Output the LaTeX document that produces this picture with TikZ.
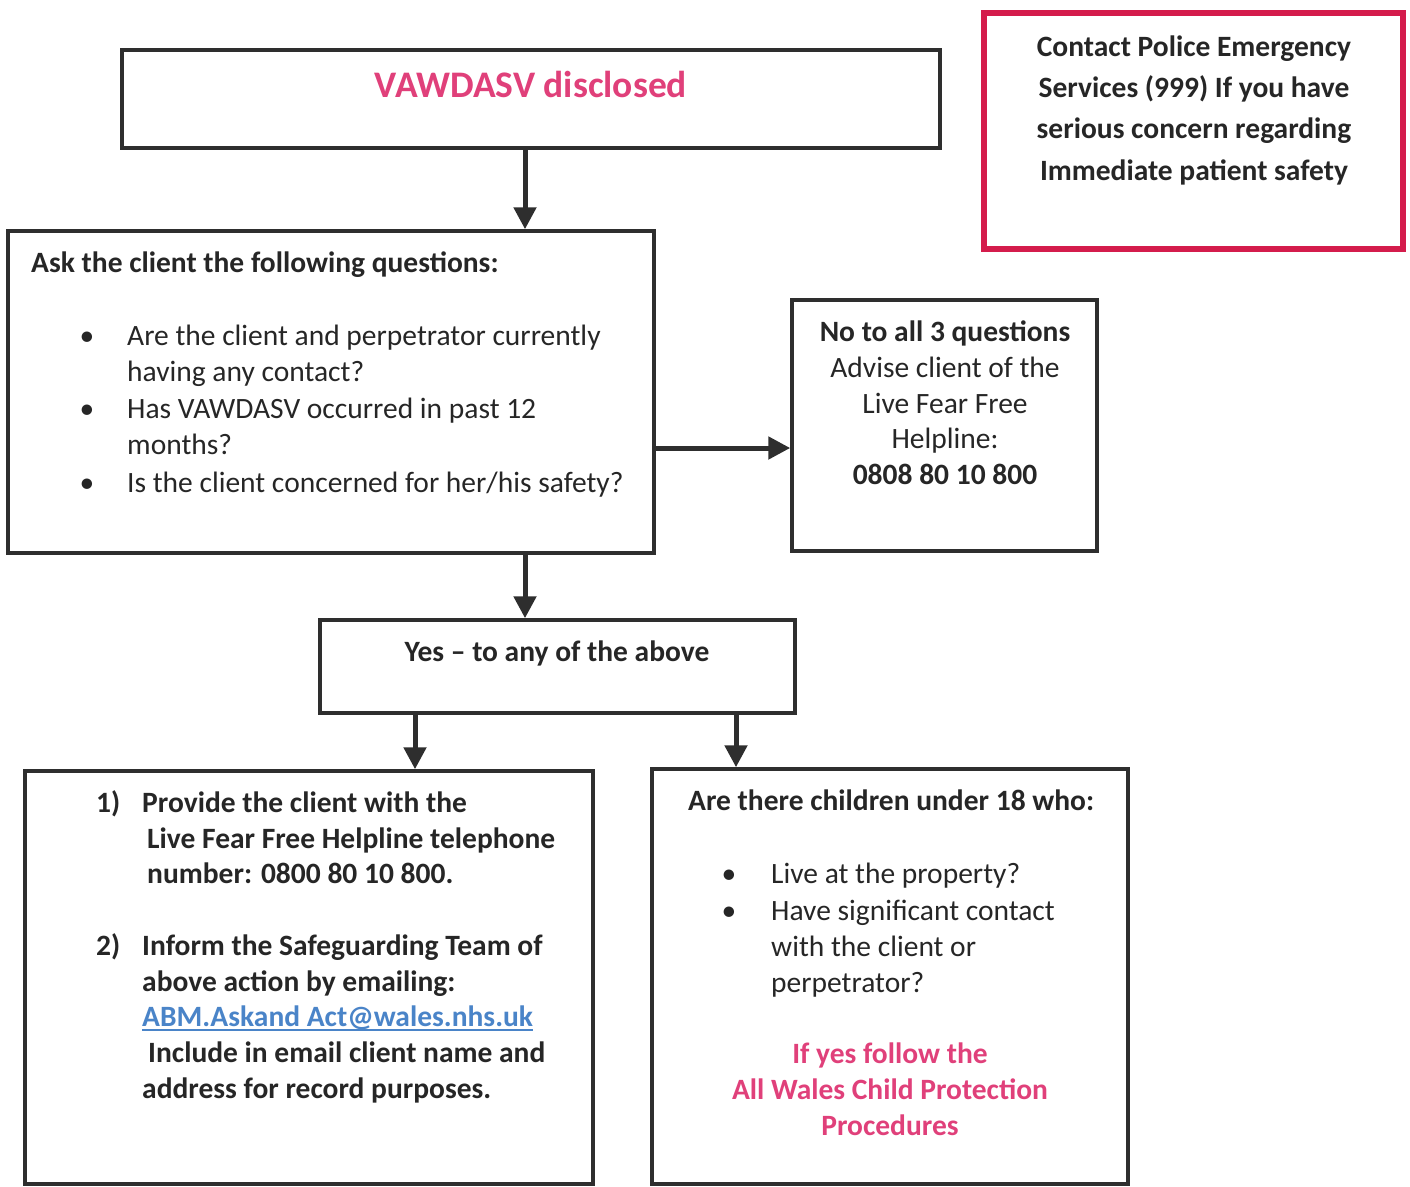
\documentclass[tikz,border=0pt]{standalone}
\usepackage{fontspec}
\setmainfont{Carlito}
\usetikzlibrary{arrows.meta}
\definecolor{boxgray}{HTML}{2E2E2E}
\definecolor{pinktxt}{HTML}{E0407A}
\definecolor{redframe}{HTML}{D41C4C}
\definecolor{linkblue}{HTML}{4A84C8}
\tikzset{
  box/.style={draw=boxgray, line width=3.5pt, inner sep=0pt, fill=none},
  redbox/.style={draw=redframe, line width=6pt, inner sep=0pt},
  arr/.style={draw=boxgray, line width=5pt, -{Triangle[length=22pt,width=22pt]}},
  txt/.style={inner sep=0pt, font=\fontsize{29.5}{36}\selectfont, text=black!85},
  btxt/.style={txt, font=\fontsize{29.5}{36}\selectfont\bfseries},
  ptxt/.style={btxt, text=pinktxt},
  bul/.style={txt, anchor=base}
}
\begin{document}
\begin{tikzpicture}[x=1pt,y=-1pt]
\useasboundingbox (0,0) rectangle (1410,1186);
\clip (0,0) rectangle (1410,1186);
% boxes
\node[box, minimum width=818pt, minimum height=98pt] (top) at (531,99) {};
\node[redbox, minimum width=419pt, minimum height=236pt] (red) at (1193.5,131) {};
\node[box, minimum width=646pt, minimum height=322pt] (ask) at (331,392) {};
\node[box, minimum width=305pt, minimum height=251pt] (no) at (944.5,425.5) {};
\node[box, minimum width=475pt, minimum height=93pt] (yes) at (557.5,666.5) {};
\node[box, minimum width=568pt, minimum height=413pt] (lb) at (309,977.5) {};
\node[box, minimum width=476pt, minimum height=415pt] (rb) at (890,976.5) {};
% top text
\node[inner sep=0pt, anchor=base, font=\fontsize{37.5}{45}\selectfont\bfseries, text=pinktxt] (t0) at (531,97) {VAWDASV disclosed};
% red box text
\node[btxt, anchor=base] (r1) at (1194,56) {Contact Police Emergency};
\node[btxt, anchor=base] (r2) at (1194,97) {Services (999) If you have};
\node[btxt, anchor=base] (r3) at (1194,138) {serious concern regarding};
\node[btxt, anchor=base] (r4) at (1194,180) {Immediate patient safety};
% ask box text
\node[btxt, anchor=base west] (a0) at (31,272) {Ask the client the following questions:};
\node[bul] (ab1) at (87,345) {\textbullet};
\node[txt, anchor=base west] (a1) at (127,345) {Are the client and perpetrator currently};
\node[txt, anchor=base west] (a2) at (127,381) {having any contact?};
\node[bul] (ab2) at (87,418) {\textbullet};
\node[txt, anchor=base west] (a3) at (127,418) {Has VAWDASV occurred in past 12};
\node[txt, anchor=base west] (a4) at (127,454) {months?};
\node[bul] (ab3) at (87,492) {\textbullet};
\node[txt, anchor=base west] (a5) at (127,492) {Is the client concerned for her/his safety?};
% no box text
\node[btxt, anchor=base] (n1) at (945,341) {No to all 3 questions};
\node[txt, anchor=base] (n2) at (945,377) {Advise client of the};
\node[txt, anchor=base] (n3) at (945,413) {Live Fear Free};
\node[txt, anchor=base] (n4) at (945,448) {Helpline:};
\node[btxt, anchor=base] (n5) at (945,484) {0808 80 10 800};
% yes box text
\node[btxt, anchor=base] (y1) at (557,661) {Yes -- to any of the above};
% left bottom text
\node[btxt, anchor=base west] (l0) at (96,812) {1)};
\node[btxt, anchor=base west] (l1) at (142,812) {Provide the client with the};
\node[btxt, anchor=base west] (l2) at (147,848) {Live Fear Free Helpline telephone};
\node[btxt, anchor=base west] (l3) at (147,883) {number: 0800 80 10 800.};
\node[btxt, anchor=base west] (l4) at (96,955) {2)};
\node[btxt, anchor=base west] (l5) at (142,955) {Inform the Safeguarding Team of};
\node[btxt, anchor=base west] (l6) at (142,991) {above action by emailing:};
\node[btxt, anchor=base west, text=linkblue] (l7) at (142,1026) {ABM.Askand Act@wales.nhs.uk};
\draw[linkblue, line width=1.5pt] ([yshift=-4pt]l7.base west) -- ([yshift=-4pt]l7.base east);
\node[btxt, anchor=base west] (l8) at (148,1062) {Include in email client name and};
\node[btxt, anchor=base west] (l9) at (142,1098) {address for record purposes.};
% right bottom text
\node[btxt, anchor=base west] (q0) at (688,810) {Are there children under 18 who:};
\node[bul] (qb1) at (729,883) {\textbullet};
\node[txt, anchor=base west] (q1) at (771,883) {Live at the property?};
\node[bul] (qb2) at (729,920) {\textbullet};
\node[txt, anchor=base west] (q2) at (771,920) {Have significant contact};
\node[txt, anchor=base west] (q3) at (771,956) {with the client or};
\node[txt, anchor=base west] (q4) at (771,992) {perpetrator?};
\node[ptxt, anchor=base] (p1) at (890,1063) {If yes follow the};
\node[ptxt, anchor=base] (p2) at (890,1099) {All Wales Child Protection};
\node[ptxt, anchor=base] (p3) at (890,1135) {Procedures};
% connectors
\coordinate (c1) at (525,0);
\coordinate (c2) at (0,448);
\coordinate (c3) at (415,0);
\coordinate (c4) at (736,0);
\draw[arr] (c1 |- top.south) -- (c1 |- ask.north);
\draw[arr] (c2 -| ask.east) -- (c2 -| no.west);
\draw[arr] (c1 |- ask.south) -- (c1 |- yes.north);
\draw[arr] (c3 |- yes.south) -- (c3 |- lb.north);
\draw[arr] (c4 |- yes.south) -- (c4 |- rb.north);
\end{tikzpicture}
\end{document}
